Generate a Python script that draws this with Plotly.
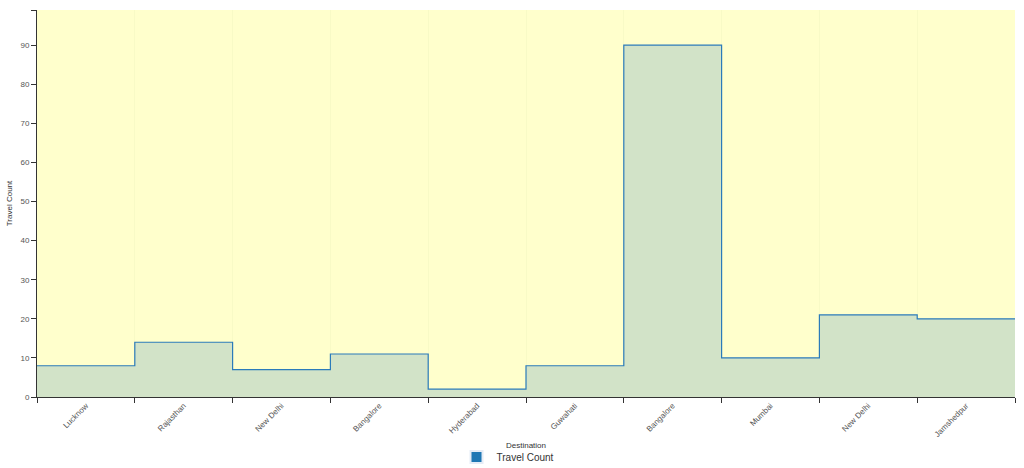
import plotly.graph_objects as go

categories = ["Lucknow", "Rajasthan", "New Delhi", "Bangalore", "Hyderabad",
              "Guwahati", "Bangalore", "Mumbai", "New Delhi", "Jamshedpur"]
travel_count = [8, 14, 7, 11, 2, 8, 90, 10, 21, 20]
y_ticks = [0, 10, 20, 30, 40, 50, 60, 70, 80, 90]

n = len(categories)
xs = list(range(n + 1))
ys = travel_count + [travel_count[-1]]
y_max = max(travel_count) * 1.1

fig = go.Figure()
fig.add_trace(go.Scatter(
    x=xs, y=ys, mode="lines", line_shape="hv",
    line=dict(color="#2b7bba", width=1.2),
    fill="tozeroy", fillcolor="#d2e3c8",
    name="Travel Count", showlegend=False, hoverinfo="skip",
))
fig.add_trace(go.Bar(x=[None], y=[None], name="Travel Count",
                     marker_color="#1f77b4", showlegend=True))

font = "Liberation Sans, Arial, sans-serif"
fig.update_layout(
    width=1024, height=468,
    margin=dict(l=37, r=9, t=10, b=71, autoexpand=False),
    paper_bgcolor="white", plot_bgcolor="#ffffcc",
    font=dict(family=font, size=8, color="#444"),
    showlegend=True,
    legend=dict(orientation="h", x=0.4816, xanchor="center", y=-0.155, yanchor="middle",
                font=dict(size=10, color="#333"), itemwidth=30, itemsizing="constant",
                tracegroupgap=0),
    xaxis=dict(
        range=[0, n], tickmode="array",
        tickvals=[i + 0.5 for i in range(n)], ticktext=categories,
        tickangle=-45, ticks="", showgrid=False, zeroline=False,
        showline=True, linecolor="#333", linewidth=1, automargin=False,
        tickfont=dict(size=8, color="#555"),
        minor=dict(tickmode="array", tickvals=xs, ticks="outside", ticklen=5,
                   tickcolor="#333", showgrid=True, gridcolor="rgba(215,230,170,0.18)"),
        title=dict(text="Destination", font=dict(size=8, color="#333"), standoff=4),
        fixedrange=True,
    ),
    yaxis=dict(
        range=[0, y_max], tickmode="array", tickvals=y_ticks,
        ticks="outside", ticklen=5, tickcolor="#333",
        showgrid=False, zeroline=False, showline=True, linecolor="#333", linewidth=1,
        automargin=False,
        tickfont=dict(size=8, color="#555"),
        minor=dict(tickmode="array", tickvals=[y_max], ticks="outside", ticklen=5,
                   tickcolor="#333", showgrid=False),
        title=dict(text="Travel Count", font=dict(size=8, color="#333"), standoff=6),
        fixedrange=True,
    ),
)

fig.write_html(
    "out.html",
    config={"displayModeBar": False},
    post_script="document.body.style.margin='0';document.body.style.overflow='hidden';",
)
